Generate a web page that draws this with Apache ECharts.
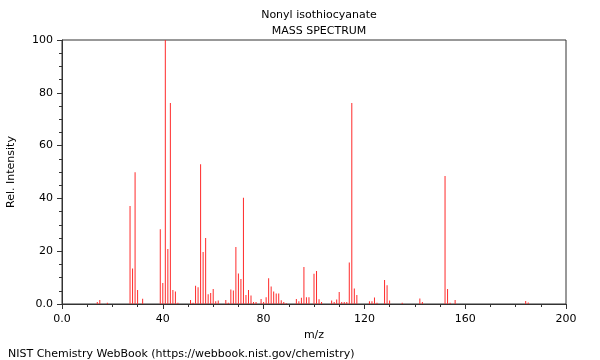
<!DOCTYPE html>
<html><head><meta charset="utf-8">
<script src="https://cdn.jsdelivr.net/npm/echarts@6/dist/echarts.min.js"></script>
<style>html,body{margin:0;padding:0;background:#fff}#c{width:600px;height:360px}</style>
</head><body><div id="c"></div>
<script>
const titleLines = ["Nonyl isothiocyanate", "MASS SPECTRUM"];
const mz = [14,15,18,27,28,29,30,32,39,40,41,42,43,44,45,46,
  51,52,53,54,55,56,57,58,59,60,61,62,65,66,67,68,69,70,71,72,73,74,75,76,77,79,80,81,82,83,84,85,86,87,88,89,
  93,94,95,96,97,98,100,101,102,103,107,108,109,110,111,112,113,114,115,116,117,
  122,123,124,125,128,129,130,135,142,143,152,153,154,156,184,185];
const intensity = [0.8,1.5,0.5,37.1,13.4,49.9,5.3,2.0,28.3,8.0,100,20.8,76.1,5.3,4.7,0.5,
  1.5,0.5,6.9,6.3,52.9,19.7,25.0,3.7,4.2,5.7,1.0,1.3,1.5,0.5,5.5,5.1,21.6,11.6,9.5,40.2,3.4,5.3,3.2,0.8,0.8,1.9,0.8,2.6,9.8,6.6,4.7,4.0,4.0,1.4,0.8,0.3,
  1.9,1.0,2.4,14.0,2.6,2.6,11.5,12.5,1.8,0.8,1.3,0.8,1.7,4.5,0.8,0.8,0.8,15.7,76.1,5.9,3.4,
  1.0,1.0,2.5,0.5,9.1,7.1,1.3,0.5,2.1,0.8,48.5,5.7,0.5,1.5,1.1,0.6];
const xTicks = [0, 40, 80, 120, 160, 200];
const yTicks = [0, 20, 40, 60, 80, 100];
const footer = "NIST Chemistry WebBook (https://webbook.nist.gov/chemistry)";

const font = "DejaVu Sans";
const chart = echarts.init(document.getElementById('c'));
const fmt = v => v === 0 ? "0.0" : String(v);
chart.setOption({
  animation: false,
  textStyle: {fontFamily: font},
  title: [
    {text: titleLines[0], left: 314, top: 5, textAlign: 'center',
     textStyle: {fontFamily: font, fontSize: 11, fontWeight: 'normal', color: '#000'}},
    {text: titleLines[1], left: 314, top: 21, textAlign: 'center',
     textStyle: {fontFamily: font, fontSize: 11, fontWeight: 'normal', color: '#000'}},
    {text: footer, left: 3, top: 344,
     textStyle: {fontFamily: font, fontSize: 11, fontWeight: 'normal', color: '#000'}}
  ],
  grid: {left: 62, right: 34, top: 40, bottom: 56, containLabel: false, outerBoundsMode: 'none',
         show: true, borderColor: '#333', borderWidth: 1, backgroundColor: 'transparent'},
  xAxis: {
    type: 'value', min: xTicks[0], max: xTicks[xTicks.length-1], interval: 40,
    name: 'm/z', nameLocation: 'middle', nameGap: 26,
    nameTextStyle: {fontFamily: font, fontSize: 11, color: '#000'},
    axisLine: {show: true, onZero: false, lineStyle: {color: '#333'}},
    axisTick: {show: true, length: 5, lineStyle: {color: '#333'}},
    minorTick: {show: true, splitNumber: 4, length: 3, lineStyle: {color: '#333'}},
    splitLine: {show: false},
    axisLabel: {fontFamily: font, fontSize: 11, color: '#000', margin: 10, formatter: fmt}
  },
  yAxis: {
    type: 'value', min: yTicks[0], max: yTicks[yTicks.length-1], interval: 20,
    name: 'Rel. Intensity', nameLocation: 'middle', nameGap: 45,
    nameTextStyle: {fontFamily: font, fontSize: 11, color: '#000'},
    axisLine: {show: true, lineStyle: {color: '#333'}},
    axisTick: {show: true, length: 5, lineStyle: {color: '#333'}},
    minorTick: {show: true, splitNumber: 4, length: 3, lineStyle: {color: '#333'}},
    splitLine: {show: false},
    axisLabel: {fontFamily: font, fontSize: 11, color: '#000', margin: 9, formatter: fmt}
  },
  series: [{
    type: 'bar', barWidth: 1, barGap: '-100%',
    itemStyle: {color: '#ff2a2a'},
    data: mz.map((m, i) => [m, intensity[i]])
  }]
});
</script></body></html>
